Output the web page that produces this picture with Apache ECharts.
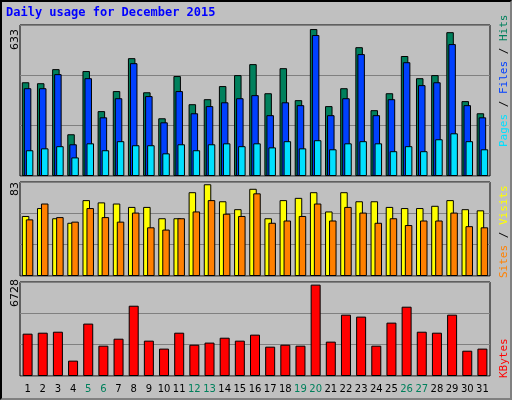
<!DOCTYPE html>
<html><head><meta charset="utf-8">
<script src="https://cdn.jsdelivr.net/npm/echarts@6/dist/echarts.min.js"></script>
<style>html,body{margin:0;padding:0;background:#c0c0c0}
#c{width:508px;height:396px;border:2px solid #000;border-right-color:#808080;border-bottom-color:#808080;box-sizing:content-box}</style>
</head><body><div id="c"></div>
<script>
const days = ['1','2','3','4','5','6','7','8','9','10','11','12','13','14','15','16','17','18','19','20','21','22','23','24','25','26','27','28','29','30','31'];
const weekend = ['5','6','12','13','19','20','26','27'];
const hits  = [393,389,448,175,440,272,356,494,351,242,419,301,322,377,423,469,347,452,318,616,293,368,540,276,347,503,410,423,603,314,263];
const files = [368,368,427,133,410,246,326,473,335,225,356,263,293,309,326,339,255,309,297,591,255,326,511,255,322,477,381,393,553,297,246];
const pages = [108,116,125,78,137,108,146,129,129,95,133,108,133,137,125,137,120,146,116,150,112,137,146,137,104,125,104,154,179,146,112];
const visits = [53,60,51,47,67,65,64,61,61,51,51,74,81,66,59,77,51,67,69,74,57,74,66,66,61,60,60,62,67,59,58];
const sites  = [50,64,52,48,60,52,48,56,43,41,51,57,67,55,53,73,47,49,53,64,49,61,56,47,51,45,49,49,56,44,43];
const kbytes = [3030,3100,3170,1100,3750,2170,2670,5030,2530,1960,3100,2240,2390,2740,2530,2960,2100,2240,2170,6540,2460,4390,4250,2170,3820,4960,3170,3100,4390,1810,1960];
const maxTop = 633, maxMid = 83, maxBot = 6728;

const ch = echarts.init(document.getElementById('c'));
const grids = [{left:18,top:23,width:470,height:151},{left:18,top:180,width:470,height:94},{left:18,top:280,width:470,height:94}];
const xAx = grids.map((g,i)=>({type:'category',gridIndex:i,data:days,
  axisLine:{show:false},axisTick:{show:false},
  axisLabel:{show:i===2,interval:0,margin:8,fontFamily:'DejaVu Sans',fontSize:10,
    formatter:v=>weekend.includes(v)?'{w|'+v+'}':'{n|'+v+'}',
    rich:{n:{color:'#000',fontFamily:'DejaVu Sans',fontSize:10},w:{color:'#00805c',fontFamily:'DejaVu Sans',fontSize:10}}}}));
const yAx = [maxTop,maxMid,maxBot].map((m,i)=>({type:'value',gridIndex:i,min:0,max:m,interval:m/3,
  axisLabel:{show:false},axisLine:{show:false},axisTick:{show:false},
  splitLine:{lineStyle:{color:'#808080',width:1}}}));
const bs = {borderColor:'#000',borderWidth:1};
ch.setOption({
  animation:false,
  backgroundColor:'#c0c0c0',
  grid:grids.map(g=>Object.assign({show:true,borderColor:'#000',borderWidth:1},g)),
  xAxis:xAx, yAxis:yAx,
  series:[
    {type:'bar',xAxisIndex:0,yAxisIndex:0,data:hits,barWidth:7.5,barGap:'-73%',itemStyle:Object.assign({color:'#00805c'},bs)},
    {type:'bar',xAxisIndex:0,yAxisIndex:0,data:files,barWidth:7.5,barGap:'-73%',itemStyle:Object.assign({color:'#0040ff'},bs)},
    {type:'bar',xAxisIndex:0,yAxisIndex:0,data:pages,barWidth:7.5,barGap:'-73%',itemStyle:Object.assign({color:'#00e0ff'},bs)},
    {type:'bar',xAxisIndex:1,yAxisIndex:1,data:visits,barWidth:7.5,barGap:'-47%',itemStyle:Object.assign({color:'#ffff00'},bs)},
    {type:'bar',xAxisIndex:1,yAxisIndex:1,data:sites,barWidth:7.5,barGap:'-47%',itemStyle:Object.assign({color:'#ff8000'},bs)},
    {type:'bar',xAxisIndex:2,yAxisIndex:2,data:kbytes,barWidth:10,itemStyle:Object.assign({color:'#ff0000'},bs)}
  ],
  graphic:[
    {type:'text',left:4,top:5,style:{text:'Daily usage for December 2015',fill:'#0000ff',font:'bold 12px "DejaVu Sans Mono"'}},
    {type:'text',x:8,y:48,rotation:Math.PI/2,style:{text:String(maxTop),fill:'#000',font:'11px "DejaVu Sans"'}},
    {type:'text',x:8,y:194,rotation:Math.PI/2,style:{text:String(maxMid),fill:'#000',font:'11px "DejaVu Sans"'}},
    {type:'text',x:8,y:305,rotation:Math.PI/2,style:{text:String(maxBot),fill:'#000',font:'11px "DejaVu Sans"'}},
    {type:'text',x:497,y:145,rotation:Math.PI/2,style:{fill:'#000',font:'11px "DejaVu Sans Mono"',
      text:'{p|Pages}{s| / }{f|Files}{s| / }{h|Hits}',
      rich:{p:{fill:'#00e0ff',font:'11px "DejaVu Sans Mono"'},f:{fill:'#0040ff',font:'11px "DejaVu Sans Mono"'},h:{fill:'#00805c',font:'11px "DejaVu Sans Mono"'},s:{fill:'#000',font:'11px "DejaVu Sans Mono"'}}}},
    {type:'text',x:497,y:276,rotation:Math.PI/2,style:{
      text:'{a|Sites}{s| / }{b|Visits}',
      rich:{a:{fill:'#ff8000',font:'11px "DejaVu Sans Mono"'},b:{fill:'#ffff00',font:'11px "DejaVu Sans Mono"'},s:{fill:'#000',font:'11px "DejaVu Sans Mono"'}}}},
    {type:'text',x:497,y:376,rotation:Math.PI/2,style:{text:'KBytes',fill:'#ff0000',font:'11px "DejaVu Sans Mono"'}}
  ]
});
</script></body></html>
